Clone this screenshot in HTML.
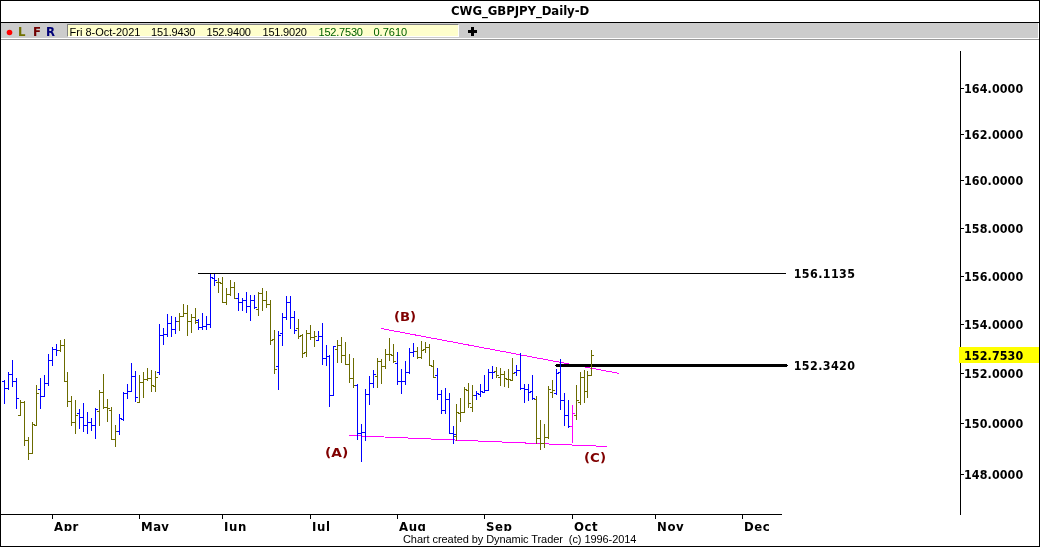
<!DOCTYPE html>
<html><head><meta charset="utf-8"><title>CWG_GBPJPY_Daily-D</title>
<style>
html,body{margin:0;padding:0;background:#fff;}
#app{position:relative;width:1040px;height:547px;overflow:hidden;background:#fff;}
#app span{position:absolute;white-space:pre;display:block;}
#frame{position:absolute;left:0;top:0;width:1038px;height:545px;border:1px solid #000;}
#titleline{position:absolute;left:0;top:22px;width:1040px;height:1px;background:#000;}
#toolbar{position:absolute;left:1px;top:23px;width:1037px;height:15px;background:#cccccc;}
#tbline{position:absolute;left:1px;top:39px;width:1038px;height:1px;background:#9a9a9a;}
#info{position:absolute;left:67px;top:24px;width:390px;height:11px;background:#ffffcc;border-top:1px solid #808080;border-left:1px solid #808080;border-right:1px solid #fff;border-bottom:1px solid #fff;box-sizing:content-box;}
svg{position:absolute;left:0;top:0;}
</style></head><body>
<div id="app">
<div id="frame"></div>
<div id="titleline"></div>
<div id="toolbar"></div>
<div id="tbline"></div>
<div id="info"></div>
<svg width="1040" height="547" viewBox="0 0 1040 547" shape-rendering="crispEdges">
<rect x="198" y="273" width="588" height="1" fill="#000"/>
<g stroke="#ff00ff" stroke-width="1" shape-rendering="crispEdges" fill="none"><line x1="381" y1="328.5" x2="619.5" y2="373.5"/><line x1="349" y1="435.5" x2="607.5" y2="446.5"/></g>
<rect x="556" y="364" width="231" height="3" fill="#000"/><rect x="555" y="365" width="233" height="1" fill="#000"/>
<path fill="#0000ff" d="M4 380h1v24h-1zM2 381h2v1h-2zM5 388h2v1h-2z"/>
<path fill="#0000ff" d="M8 372h1v18h-1zM6 388h2v1h-2zM9 374h2v1h-2z"/>
<path fill="#0000ff" d="M12 360h1v27h-1zM10 374h2v1h-2zM13 381h2v1h-2z"/>
<path fill="#0000ff" d="M16 378h1v31h-1zM14 381h2v1h-2zM17 398h2v1h-2z"/>
<path fill="#6b6b00" d="M20 400h1v16h-1zM18 415h2v1h-2zM21 402h2v1h-2z"/>
<path fill="#6b6b00" d="M24 401h1v45h-1zM22 402h2v1h-2zM25 440h2v1h-2z"/>
<path fill="#6b6b00" d="M28 437h1v23h-1zM26 440h2v1h-2zM29 453h2v1h-2z"/>
<path fill="#6b6b00" d="M32 422h1v32h-1zM30 453h2v1h-2zM33 424h2v1h-2z"/>
<path fill="#6b6b00" d="M36 385h1v41h-1zM34 425h2v1h-2zM37 393h2v1h-2z"/>
<path fill="#0000ff" d="M40 378h1v31h-1zM38 389h2v1h-2zM41 396h2v1h-2z"/>
<path fill="#0000ff" d="M44 375h1v22h-1zM42 396h2v1h-2zM45 383h2v1h-2z"/>
<path fill="#0000ff" d="M48 354h1v32h-1zM46 383h2v1h-2zM49 360h2v1h-2z"/>
<path fill="#0000ff" d="M52 347h1v19h-1zM50 360h2v1h-2zM53 349h2v1h-2z"/>
<path fill="#0000ff" d="M56 344h1v12h-1zM54 349h2v1h-2zM57 350h2v1h-2z"/>
<path fill="#6b6b00" d="M60 340h1v12h-1zM58 350h2v1h-2zM61 345h2v1h-2z"/>
<path fill="#6b6b00" d="M64 339h1v43h-1zM62 345h2v1h-2zM65 381h2v1h-2z"/>
<path fill="#6b6b00" d="M67 372h1v35h-1zM65 381h2v1h-2zM68 401h2v1h-2z"/>
<path fill="#6b6b00" d="M71 396h1v30h-1zM69 401h2v1h-2zM72 422h2v1h-2z"/>
<path fill="#6b6b00" d="M75 400h1v34h-1zM73 422h2v1h-2zM76 415h2v1h-2z"/>
<path fill="#0000ff" d="M79 409h1v20h-1zM77 413h2v1h-2zM80 417h2v1h-2z"/>
<path fill="#0000ff" d="M83 403h1v29h-1zM81 417h2v1h-2zM84 425h2v1h-2z"/>
<path fill="#0000ff" d="M87 412h1v22h-1zM85 425h2v1h-2zM88 422h2v1h-2z"/>
<path fill="#0000ff" d="M91 418h1v13h-1zM89 422h2v1h-2zM92 425h2v1h-2z"/>
<path fill="#0000ff" d="M95 408h1v31h-1zM93 425h2v1h-2zM96 409h2v1h-2z"/>
<path fill="#6b6b00" d="M99 390h1v36h-1zM97 411h2v1h-2zM100 392h2v1h-2z"/>
<path fill="#6b6b00" d="M103 374h1v35h-1zM101 392h2v1h-2zM104 407h2v1h-2z"/>
<path fill="#6b6b00" d="M107 399h1v23h-1zM105 407h2v1h-2zM108 408h2v1h-2z"/>
<path fill="#6b6b00" d="M111 407h1v33h-1zM109 410h2v1h-2zM112 439h2v1h-2z"/>
<path fill="#6b6b00" d="M115 425h1v22h-1zM113 439h2v1h-2zM116 431h2v1h-2z"/>
<path fill="#0000ff" d="M119 414h1v21h-1zM117 431h2v1h-2zM120 418h2v1h-2z"/>
<path fill="#0000ff" d="M123 392h1v29h-1zM121 419h2v1h-2zM124 393h2v1h-2z"/>
<path fill="#0000ff" d="M127 384h1v15h-1zM125 393h2v1h-2zM128 391h2v1h-2z"/>
<path fill="#0000ff" d="M131 363h1v29h-1zM129 391h2v1h-2zM132 376h2v1h-2z"/>
<path fill="#0000ff" d="M135 371h1v31h-1zM133 376h2v1h-2zM136 397h2v1h-2z"/>
<path fill="#6b6b00" d="M139 375h1v28h-1zM137 402h2v1h-2zM140 382h2v1h-2z"/>
<path fill="#6b6b00" d="M143 372h1v26h-1zM141 382h2v1h-2zM144 379h2v1h-2z"/>
<path fill="#6b6b00" d="M147 368h1v13h-1zM145 379h2v1h-2zM148 378h2v1h-2z"/>
<path fill="#6b6b00" d="M151 370h1v22h-1zM149 378h2v1h-2zM152 385h2v1h-2z"/>
<path fill="#6b6b00" d="M155 371h1v21h-1zM153 386h2v1h-2zM156 377h2v1h-2z"/>
<path fill="#0000ff" d="M159 324h1v51h-1zM157 372h2v1h-2zM160 335h2v1h-2z"/>
<path fill="#0000ff" d="M163 328h1v17h-1zM161 335h2v1h-2zM164 334h2v1h-2z"/>
<path fill="#0000ff" d="M167 314h1v23h-1zM165 334h2v1h-2zM168 323h2v1h-2z"/>
<path fill="#0000ff" d="M171 316h1v21h-1zM169 323h2v1h-2zM172 329h2v1h-2z"/>
<path fill="#0000ff" d="M175 317h1v17h-1zM173 329h2v1h-2zM176 321h2v1h-2z"/>
<path fill="#6b6b00" d="M179 313h1v18h-1zM177 321h2v1h-2zM180 316h2v1h-2z"/>
<path fill="#6b6b00" d="M183 304h1v13h-1zM181 316h2v1h-2zM184 313h2v1h-2z"/>
<path fill="#6b6b00" d="M187 305h1v31h-1zM185 313h2v1h-2zM188 321h2v1h-2z"/>
<path fill="#6b6b00" d="M191 314h1v19h-1zM189 321h2v1h-2zM192 317h2v1h-2z"/>
<path fill="#6b6b00" d="M195 308h1v16h-1zM193 317h2v1h-2zM196 322h2v1h-2z"/>
<path fill="#0000ff" d="M198 319h1v11h-1zM196 320h2v1h-2zM199 327h2v1h-2z"/>
<path fill="#0000ff" d="M202 313h1v17h-1zM200 327h2v1h-2zM203 326h2v1h-2z"/>
<path fill="#0000ff" d="M206 316h1v14h-1zM204 326h2v1h-2zM207 324h2v1h-2z"/>
<path fill="#0000ff" d="M210 274h1v54h-1zM208 324h2v1h-2zM211 277h2v1h-2z"/>
<path fill="#0000ff" d="M214 274h1v12h-1zM212 278h2v1h-2zM215 280h2v1h-2z"/>
<path fill="#6b6b00" d="M218 278h1v15h-1zM216 282h2v1h-2zM219 282h2v1h-2z"/>
<path fill="#6b6b00" d="M222 277h1v26h-1zM220 283h2v1h-2zM223 302h2v1h-2z"/>
<path fill="#6b6b00" d="M226 288h1v17h-1zM224 302h2v1h-2zM227 294h2v1h-2z"/>
<path fill="#6b6b00" d="M230 280h1v16h-1zM228 294h2v1h-2zM231 287h2v1h-2z"/>
<path fill="#6b6b00" d="M234 282h1v17h-1zM232 287h2v1h-2zM235 298h2v1h-2z"/>
<path fill="#0000ff" d="M238 293h1v18h-1zM236 298h2v1h-2zM239 302h2v1h-2z"/>
<path fill="#0000ff" d="M242 298h1v13h-1zM240 302h2v1h-2zM243 300h2v1h-2z"/>
<path fill="#0000ff" d="M246 292h1v21h-1zM244 300h2v1h-2zM247 306h2v1h-2z"/>
<path fill="#0000ff" d="M250 295h1v26h-1zM248 306h2v1h-2zM251 300h2v1h-2z"/>
<path fill="#0000ff" d="M254 295h1v14h-1zM252 300h2v1h-2zM255 307h2v1h-2z"/>
<path fill="#6b6b00" d="M258 292h1v24h-1zM256 309h2v1h-2zM259 293h2v1h-2z"/>
<path fill="#6b6b00" d="M262 288h1v23h-1zM260 293h2v1h-2zM263 300h2v1h-2z"/>
<path fill="#6b6b00" d="M266 291h1v17h-1zM264 300h2v1h-2zM267 304h2v1h-2z"/>
<path fill="#6b6b00" d="M270 300h1v45h-1zM268 304h2v1h-2zM271 340h2v1h-2z"/>
<path fill="#6b6b00" d="M274 330h1v44h-1zM272 339h2v1h-2zM275 369h2v1h-2z"/>
<path fill="#0000ff" d="M278 331h1v59h-1zM276 366h2v1h-2zM279 335h2v1h-2z"/>
<path fill="#0000ff" d="M282 313h1v33h-1zM280 333h2v1h-2zM283 317h2v1h-2z"/>
<path fill="#0000ff" d="M286 296h1v24h-1zM284 317h2v1h-2zM287 302h2v1h-2z"/>
<path fill="#0000ff" d="M290 296h1v33h-1zM288 302h2v1h-2zM291 317h2v1h-2z"/>
<path fill="#0000ff" d="M294 311h1v23h-1zM292 317h2v1h-2zM295 330h2v1h-2z"/>
<path fill="#6b6b00" d="M298 319h1v20h-1zM296 328h2v1h-2zM299 336h2v1h-2z"/>
<path fill="#6b6b00" d="M302 334h1v24h-1zM300 335h2v1h-2zM303 353h2v1h-2z"/>
<path fill="#6b6b00" d="M306 330h1v27h-1zM304 352h2v1h-2zM307 333h2v1h-2z"/>
<path fill="#6b6b00" d="M310 325h1v15h-1zM308 333h2v1h-2zM311 337h2v1h-2z"/>
<path fill="#6b6b00" d="M314 331h1v16h-1zM312 337h2v1h-2zM315 336h2v1h-2z"/>
<path fill="#0000ff" d="M318 331h1v10h-1zM316 340h2v1h-2zM319 336h2v1h-2z"/>
<path fill="#0000ff" d="M322 323h1v42h-1zM320 336h2v1h-2zM323 358h2v1h-2z"/>
<path fill="#0000ff" d="M326 345h1v21h-1zM324 358h2v1h-2zM327 356h2v1h-2z"/>
<path fill="#0000ff" d="M329 355h1v52h-1zM327 356h2v1h-2zM330 395h2v1h-2z"/>
<path fill="#0000ff" d="M333 346h1v50h-1zM331 395h2v1h-2zM334 346h2v1h-2z"/>
<path fill="#6b6b00" d="M337 340h1v23h-1zM335 349h2v1h-2zM338 345h2v1h-2z"/>
<path fill="#6b6b00" d="M341 337h1v26h-1zM339 345h2v1h-2zM342 355h2v1h-2z"/>
<path fill="#6b6b00" d="M345 342h1v23h-1zM343 355h2v1h-2zM346 364h2v1h-2z"/>
<path fill="#6b6b00" d="M349 354h1v29h-1zM347 364h2v1h-2zM350 378h2v1h-2z"/>
<path fill="#6b6b00" d="M353 358h1v30h-1zM351 378h2v1h-2zM354 385h2v1h-2z"/>
<path fill="#0000ff" d="M357 384h1v56h-1zM355 385h2v1h-2zM358 433h2v1h-2z"/>
<path fill="#0000ff" d="M361 424h1v38h-1zM359 433h2v1h-2zM362 432h2v1h-2z"/>
<path fill="#0000ff" d="M365 389h1v52h-1zM363 432h2v1h-2zM366 394h2v1h-2z"/>
<path fill="#0000ff" d="M369 376h1v29h-1zM367 394h2v1h-2zM370 383h2v1h-2z"/>
<path fill="#0000ff" d="M373 370h1v18h-1zM371 383h2v1h-2zM374 374h2v1h-2z"/>
<path fill="#6b6b00" d="M377 358h1v30h-1zM375 376h2v1h-2zM378 361h2v1h-2z"/>
<path fill="#6b6b00" d="M381 359h1v25h-1zM379 361h2v1h-2zM382 366h2v1h-2z"/>
<path fill="#6b6b00" d="M385 349h1v20h-1zM383 366h2v1h-2zM386 354h2v1h-2z"/>
<path fill="#6b6b00" d="M389 338h1v23h-1zM387 354h2v1h-2zM390 354h2v1h-2z"/>
<path fill="#6b6b00" d="M393 344h1v19h-1zM391 355h2v1h-2zM394 361h2v1h-2z"/>
<path fill="#0000ff" d="M397 352h1v33h-1zM395 363h2v1h-2zM398 381h2v1h-2z"/>
<path fill="#0000ff" d="M401 369h1v25h-1zM399 381h2v1h-2zM402 381h2v1h-2z"/>
<path fill="#0000ff" d="M405 361h1v24h-1zM403 381h2v1h-2zM406 372h2v1h-2z"/>
<path fill="#0000ff" d="M409 348h1v26h-1zM407 372h2v1h-2zM410 352h2v1h-2z"/>
<path fill="#0000ff" d="M413 343h1v14h-1zM411 352h2v1h-2zM414 351h2v1h-2z"/>
<path fill="#6b6b00" d="M417 347h1v12h-1zM415 351h2v1h-2zM418 357h2v1h-2z"/>
<path fill="#6b6b00" d="M421 341h1v18h-1zM419 357h2v1h-2zM422 350h2v1h-2z"/>
<path fill="#6b6b00" d="M425 342h1v11h-1zM423 349h2v1h-2zM426 347h2v1h-2z"/>
<path fill="#6b6b00" d="M429 344h1v22h-1zM427 347h2v1h-2zM430 365h2v1h-2z"/>
<path fill="#6b6b00" d="M433 360h1v18h-1zM431 366h2v1h-2zM434 377h2v1h-2z"/>
<path fill="#0000ff" d="M437 368h1v32h-1zM435 375h2v1h-2zM438 394h2v1h-2z"/>
<path fill="#0000ff" d="M441 390h1v24h-1zM439 394h2v1h-2zM442 410h2v1h-2z"/>
<path fill="#0000ff" d="M445 388h1v26h-1zM443 410h2v1h-2zM446 399h2v1h-2z"/>
<path fill="#0000ff" d="M449 393h1v41h-1zM447 399h2v1h-2zM450 433h2v1h-2z"/>
<path fill="#0000ff" d="M453 426h1v18h-1zM451 433h2v1h-2zM454 434h2v1h-2z"/>
<path fill="#6b6b00" d="M456 404h1v37h-1zM454 436h2v1h-2zM457 412h2v1h-2z"/>
<path fill="#6b6b00" d="M460 398h1v24h-1zM458 413h2v1h-2zM461 412h2v1h-2z"/>
<path fill="#6b6b00" d="M464 387h1v26h-1zM462 412h2v1h-2zM465 389h2v1h-2z"/>
<path fill="#6b6b00" d="M468 383h1v25h-1zM466 390h2v1h-2zM469 403h2v1h-2z"/>
<path fill="#6b6b00" d="M472 385h1v27h-1zM470 407h2v1h-2zM473 395h2v1h-2z"/>
<path fill="#0000ff" d="M476 391h1v9h-1zM474 395h2v1h-2zM477 393h2v1h-2z"/>
<path fill="#0000ff" d="M480 384h1v13h-1zM478 394h2v1h-2zM481 391h2v1h-2z"/>
<path fill="#0000ff" d="M484 375h1v18h-1zM482 392h2v1h-2zM485 390h2v1h-2z"/>
<path fill="#0000ff" d="M488 369h1v22h-1zM486 390h2v1h-2zM489 372h2v1h-2z"/>
<path fill="#0000ff" d="M492 366h1v13h-1zM490 372h2v1h-2zM493 372h2v1h-2z"/>
<path fill="#6b6b00" d="M496 367h1v11h-1zM494 371h2v1h-2zM497 375h2v1h-2z"/>
<path fill="#6b6b00" d="M500 368h1v18h-1zM498 377h2v1h-2zM501 374h2v1h-2z"/>
<path fill="#6b6b00" d="M504 371h1v16h-1zM502 374h2v1h-2zM505 378h2v1h-2z"/>
<path fill="#6b6b00" d="M508 369h1v19h-1zM506 379h2v1h-2zM509 379h2v1h-2z"/>
<path fill="#6b6b00" d="M512 358h1v23h-1zM510 380h2v1h-2zM513 373h2v1h-2z"/>
<path fill="#0000ff" d="M516 365h1v11h-1zM514 372h2v1h-2zM517 370h2v1h-2z"/>
<path fill="#0000ff" d="M520 353h1v37h-1zM518 370h2v1h-2zM521 388h2v1h-2z"/>
<path fill="#0000ff" d="M524 384h1v19h-1zM522 388h2v1h-2zM525 389h2v1h-2z"/>
<path fill="#0000ff" d="M528 384h1v17h-1zM526 389h2v1h-2zM529 392h2v1h-2z"/>
<path fill="#0000ff" d="M532 375h1v25h-1zM530 391h2v1h-2zM533 398h2v1h-2z"/>
<path fill="#6b6b00" d="M536 396h1v48h-1zM534 399h2v1h-2zM537 438h2v1h-2z"/>
<path fill="#6b6b00" d="M540 420h1v30h-1zM538 438h2v1h-2zM541 443h2v1h-2z"/>
<path fill="#6b6b00" d="M544 424h1v24h-1zM542 443h2v1h-2zM545 437h2v1h-2z"/>
<path fill="#6b6b00" d="M548 386h1v53h-1zM546 437h2v1h-2zM549 389h2v1h-2z"/>
<path fill="#6b6b00" d="M552 380h1v18h-1zM550 392h2v1h-2zM553 390h2v1h-2z"/>
<path fill="#0000ff" d="M556 369h1v26h-1zM554 393h2v1h-2zM557 373h2v1h-2z"/>
<path fill="#0000ff" d="M560 359h1v51h-1zM558 372h2v1h-2zM561 400h2v1h-2z"/>
<path fill="#0000ff" d="M564 393h1v33h-1zM562 400h2v1h-2zM565 415h2v1h-2z"/>
<path fill="#0000ff" d="M568 400h1v28h-1zM566 415h2v1h-2zM569 426h2v1h-2z"/>
<path fill="#ff00ff" d="M572 405h1v38h-1zM570 426h2v1h-2zM573 413h2v1h-2z"/>
<path fill="#6b6b00" d="M576 385h1v35h-1zM574 415h2v1h-2zM577 400h2v1h-2z"/>
<path fill="#6b6b00" d="M580 372h1v33h-1zM578 402h2v1h-2zM581 377h2v1h-2z"/>
<path fill="#6b6b00" d="M584 370h1v33h-1zM582 377h2v1h-2zM585 391h2v1h-2z"/>
<path fill="#6b6b00" d="M587 371h1v27h-1zM585 391h2v1h-2zM588 375h2v1h-2z"/>
<path fill="#6b6b00" d="M591 350h1v26h-1zM589 375h2v1h-2zM592 355h2v1h-2z"/>
<rect x="960" y="51" width="1" height="464" fill="#000"/>
<rect x="1" y="514" width="781" height="1" fill="#000"/>
<rect x="961" y="474" width="3" height="1" fill="#000"/>
<rect x="961" y="423" width="3" height="1" fill="#000"/>
<rect x="961" y="373" width="3" height="1" fill="#000"/>
<rect x="961" y="324" width="3" height="1" fill="#000"/>
<rect x="961" y="276" width="3" height="1" fill="#000"/>
<rect x="961" y="228" width="3" height="1" fill="#000"/>
<rect x="961" y="180" width="3" height="1" fill="#000"/>
<rect x="961" y="134" width="3" height="1" fill="#000"/>
<rect x="961" y="88" width="3" height="1" fill="#000"/>
<rect x="52" y="515" width="1" height="4" fill="#000"/>
<rect x="139" y="515" width="1" height="4" fill="#000"/>
<rect x="222" y="515" width="1" height="4" fill="#000"/>
<rect x="310" y="515" width="1" height="4" fill="#000"/>
<rect x="397" y="515" width="1" height="4" fill="#000"/>
<rect x="484" y="515" width="1" height="4" fill="#000"/>
<rect x="572" y="515" width="1" height="4" fill="#000"/>
<rect x="655" y="515" width="1" height="4" fill="#000"/>
<rect x="742" y="515" width="1" height="4" fill="#000"/>
<rect x="959" y="347" width="80" height="16" fill="#ffff00"/>
<rect x="471" y="27" width="3" height="9" fill="#000"/><rect x="468" y="30" width="9" height="3" fill="#000"/>
<circle cx="9.5" cy="32.5" r="2.8" fill="#ff0000" shape-rendering="geometricPrecision"/>
</svg>
<span style="left:451px;top:4px;font:bold 13px/13px 'DejaVu Sans Condensed','Liberation Sans',sans-serif;color:#000;letter-spacing:-0.05px;">CWG_GBPJPY_Daily-D</span>
<span style="left:18px;top:25px;font:bold 13px/13px 'DejaVu Sans Condensed','Liberation Sans',sans-serif;color:#707000;letter-spacing:0px;">L</span>
<span style="left:33px;top:25px;font:bold 13px/13px 'DejaVu Sans Condensed','Liberation Sans',sans-serif;color:#700000;letter-spacing:0px;">F</span>
<span style="left:46px;top:25px;font:bold 13px/13px 'DejaVu Sans Condensed','Liberation Sans',sans-serif;color:#000078;letter-spacing:0px;">R</span>
<span style="left:69.5px;top:27px;font:normal 11px/11px 'Liberation Sans',sans-serif;color:#000;letter-spacing:0px;">Fri 8-Oct-2021</span>
<span style="left:151px;top:27px;font:normal 11px/11px 'Liberation Sans',sans-serif;color:#000;letter-spacing:-0.2px;">151.9430</span>
<span style="left:206.5px;top:27px;font:normal 11px/11px 'Liberation Sans',sans-serif;color:#000;letter-spacing:-0.2px;">152.9400</span>
<span style="left:262.5px;top:27px;font:normal 11px/11px 'Liberation Sans',sans-serif;color:#000;letter-spacing:-0.2px;">151.9020</span>
<span style="left:318.5px;top:27px;font:normal 11px/11px 'Liberation Sans',sans-serif;color:#006000;letter-spacing:-0.2px;">152.7530</span>
<span style="left:373.5px;top:27px;font:normal 11px/11px 'Liberation Sans',sans-serif;color:#006000;letter-spacing:0px;">0.7610</span>
<span style="left:964px;top:469px;font:bold 12.4px/12.4px 'DejaVu Sans Condensed','Liberation Sans',sans-serif;color:#000;letter-spacing:0.1px;">148.0000</span>
<span style="left:964px;top:418px;font:bold 12.4px/12.4px 'DejaVu Sans Condensed','Liberation Sans',sans-serif;color:#000;letter-spacing:0.1px;">150.0000</span>
<span style="left:964px;top:368px;font:bold 12.4px/12.4px 'DejaVu Sans Condensed','Liberation Sans',sans-serif;color:#000;letter-spacing:0.1px;">152.0000</span>
<span style="left:964px;top:319px;font:bold 12.4px/12.4px 'DejaVu Sans Condensed','Liberation Sans',sans-serif;color:#000;letter-spacing:0.1px;">154.0000</span>
<span style="left:964px;top:271px;font:bold 12.4px/12.4px 'DejaVu Sans Condensed','Liberation Sans',sans-serif;color:#000;letter-spacing:0.1px;">156.0000</span>
<span style="left:964px;top:223px;font:bold 12.4px/12.4px 'DejaVu Sans Condensed','Liberation Sans',sans-serif;color:#000;letter-spacing:0.1px;">158.0000</span>
<span style="left:964px;top:175px;font:bold 12.4px/12.4px 'DejaVu Sans Condensed','Liberation Sans',sans-serif;color:#000;letter-spacing:0.1px;">160.0000</span>
<span style="left:964px;top:129px;font:bold 12.4px/12.4px 'DejaVu Sans Condensed','Liberation Sans',sans-serif;color:#000;letter-spacing:0.1px;">162.0000</span>
<span style="left:964px;top:83px;font:bold 12.4px/12.4px 'DejaVu Sans Condensed','Liberation Sans',sans-serif;color:#000;letter-spacing:0.1px;">164.0000</span>
<span style="left:964px;top:350px;font:bold 12.4px/12.4px 'DejaVu Sans Condensed','Liberation Sans',sans-serif;color:#000;letter-spacing:0.1px;">152.7530</span>
<span style="left:793.7px;top:268px;font:bold 12.4px/12.4px 'DejaVu Sans Condensed','Liberation Sans',sans-serif;color:#000;letter-spacing:0.4px;">156.1135</span>
<span style="left:793.7px;top:360px;font:bold 12.4px/12.4px 'DejaVu Sans Condensed','Liberation Sans',sans-serif;color:#000;letter-spacing:0.4px;">152.3420</span>
<span style="left:394.3px;top:310px;font:bold 13px/13px 'DejaVu Sans Condensed','Liberation Sans',sans-serif;color:#800000;letter-spacing:0px;transform:scaleX(1.13);transform-origin:0 0;">(B)</span>
<span style="left:324.8px;top:446px;font:bold 13px/13px 'DejaVu Sans Condensed','Liberation Sans',sans-serif;color:#800000;letter-spacing:0px;transform:scaleX(1.18);transform-origin:0 0;">(A)</span>
<span style="left:584.3px;top:451px;font:bold 13px/13px 'DejaVu Sans Condensed','Liberation Sans',sans-serif;color:#800000;letter-spacing:0px;transform:scaleX(1.14);transform-origin:0 0;">(C)</span>
<span style="left:54px;top:520px;font:bold 13px/13px 'DejaVu Sans Condensed','Liberation Sans',sans-serif;color:#000;letter-spacing:0.6px;height:11px;overflow:hidden;">Apr</span>
<span style="left:141px;top:520px;font:bold 13px/13px 'DejaVu Sans Condensed','Liberation Sans',sans-serif;color:#000;letter-spacing:0.6px;height:11px;overflow:hidden;">May</span>
<span style="left:224px;top:520px;font:bold 13px/13px 'DejaVu Sans Condensed','Liberation Sans',sans-serif;color:#000;letter-spacing:0.6px;height:11px;overflow:hidden;">Jun</span>
<span style="left:312px;top:520px;font:bold 13px/13px 'DejaVu Sans Condensed','Liberation Sans',sans-serif;color:#000;letter-spacing:0.6px;height:11px;overflow:hidden;">Jul</span>
<span style="left:399px;top:520px;font:bold 13px/13px 'DejaVu Sans Condensed','Liberation Sans',sans-serif;color:#000;letter-spacing:0.6px;height:11px;overflow:hidden;">Aug</span>
<span style="left:486px;top:520px;font:bold 13px/13px 'DejaVu Sans Condensed','Liberation Sans',sans-serif;color:#000;letter-spacing:0.6px;height:11px;overflow:hidden;">Sep</span>
<span style="left:574px;top:520px;font:bold 13px/13px 'DejaVu Sans Condensed','Liberation Sans',sans-serif;color:#000;letter-spacing:0.6px;height:11px;overflow:hidden;">Oct</span>
<span style="left:657px;top:520px;font:bold 13px/13px 'DejaVu Sans Condensed','Liberation Sans',sans-serif;color:#000;letter-spacing:0.6px;height:11px;overflow:hidden;">Nov</span>
<span style="left:744px;top:520px;font:bold 13px/13px 'DejaVu Sans Condensed','Liberation Sans',sans-serif;color:#000;letter-spacing:0.6px;height:11px;overflow:hidden;">Dec</span>
<span style="left:403px;top:534px;font:normal 11px/11px 'Liberation Sans',sans-serif;color:#000;letter-spacing:-0.07px;">Chart created by Dynamic Trader  (c) 1996-2014</span>
</div></body></html>
